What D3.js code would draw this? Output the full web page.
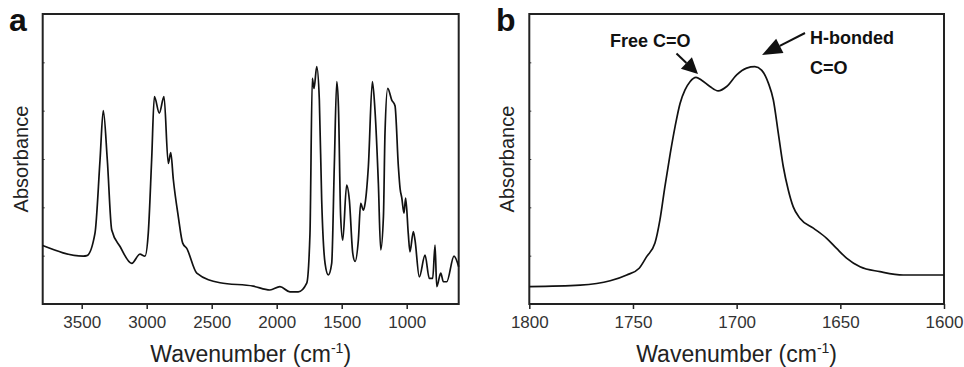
<!DOCTYPE html>
<html><head><meta charset="utf-8">
<script src="https://cdn.jsdelivr.net/npm/d3@7"></script>
<style>body{margin:0;background:#fff}svg{display:block}text{font-family:Arial,"Liberation Sans",sans-serif}</style>
</head><body>
<svg id="c" width="964" height="367"></svg>
<script>
// Panel a: full FTIR spectrum
const waveA = [3800,3488,3460,3398,3359,3334,3303,3269,3205,3115,3052,3013,2988,2962,2941,2903,2867,2834,2815,2795,2757,2723,2692,2615,2436,2180,2052,1975,1898,1834,1769,1744,1726,1713,1692,1672,1654,1628,1603,1577,1557,1538,1525,1508,1492,1462,1441,1415,1397,1372,1354,1333,1320,1295,1264,1244,1218,1200,1179,1167,1146,1115,1090,1064,1051,1038,1021,1008,988,975,949,936,903,859,826,800,782,769,738,718,692,636,600];
const absA  = [1.21,0.99,1.0,1.46,2.98,4.0,2.98,1.53,1.19,0.84,1.03,0.99,1.46,2.98,4.29,3.95,4.29,2.91,3.13,2.57,1.81,1.26,1.15,0.64,0.44,0.37,0.29,0.36,0.25,0.25,0.43,1.46,4.67,4.46,4.91,4.22,2.15,0.84,0.60,0.84,2.84,4.6,4.08,1.81,1.32,2.46,2.15,1.05,0.88,1.32,2.08,1.94,2.08,2.84,4.6,4.01,2.5,1.12,1.81,3.53,4.46,4.22,4.1,2.84,2.39,2.2,1.88,2.19,1.46,1.08,1.5,1.32,0.56,1.01,0.53,0.53,1.22,0.36,0.64,0.46,0.46,0.99,0.77];
// Panel b: carbonyl region
const waveB = [1800,1775.5,1761,1753,1747,1743.4,1739.4,1737,1734.6,1732,1729.7,1727.3,1724.9,1722.5,1719.6,1716.9,1712.9,1708.9,1704.8,1700,1695.2,1691.2,1688,1684.7,1682.3,1679.9,1677.5,1675.1,1672.7,1669.4,1663,1656.6,1651.8,1647,1640.5,1630.9,1619.7,1600];
const absB  = [0.36,0.39,0.48,0.60,0.74,0.98,1.26,1.74,2.43,3.12,3.67,4.15,4.43,4.6,4.69,4.63,4.5,4.41,4.5,4.74,4.88,4.91,4.84,4.57,4.22,3.53,2.84,2.36,2.01,1.77,1.57,1.36,1.15,0.95,0.77,0.67,0.60,0.60];
const ticksA = [3500,3000,2500,2000,1500,1000];
const ticksB = [1800,1750,1700,1650,1600];
const yTicks = [1,2,3,4,5];

const svg = d3.select("#c");
const plotTop = 14, plotBottom = 304;

function panel(opts){
  const x = d3.scaleLinear().domain(opts.xDomain).range([opts.left, opts.right]);
  const y = d3.scaleLinear().domain([0,6]).range([plotBottom, plotTop]);
  const g = svg.append("g");
  const xa = g.append("g").attr("transform",`translate(0,${plotBottom})`)
    .call(d3.axisBottom(x).tickValues(opts.ticks).tickSize(5).tickSizeOuter(0).tickPadding(7).tickFormat(d3.format("d")));
  xa.select(".domain").remove();
  xa.selectAll("line").attr("stroke","#222").attr("stroke-width",1.5);
  xa.selectAll("text").attr("font-size",17).attr("fill","#333").attr("font-family","Arial, 'Liberation Sans', sans-serif");
  const ya = g.append("g").attr("transform",`translate(${opts.left},0)`)
    .call(d3.axisRight(y).tickValues(yTicks).tickSize(2).tickFormat(""));
  ya.select(".domain").remove();
  ya.selectAll("line").attr("stroke","#333").attr("stroke-width",1);
  g.append("rect").attr("x",opts.left).attr("y",plotTop).attr("width",opts.right-opts.left).attr("height",plotBottom-plotTop)
    .attr("fill","none").attr("stroke","#222").attr("stroke-width",2);
  const data = opts.w.map((w,i)=>[w,opts.a[i]]);
  g.append("path").datum(data)
    .attr("d", d3.line().x(d=>x(d[0])).y(d=>y(d[1])).curve(d3.curveMonotoneX))
    .attr("fill","none").attr("stroke","#111").attr("stroke-width",1.7).attr("stroke-linejoin","round");
  g.append("text").attr("x",opts.letterX).attr("y",31).attr("font-size",32).attr("font-weight","bold").attr("fill","#111").text(opts.letter);
  g.append("text").attr("transform",`translate(${opts.left-15},159) rotate(-90)`).attr("text-anchor","middle")
    .attr("font-size",20).attr("fill","#222").text("Absorbance");
  const t = g.append("text").attr("x",(opts.left+opts.right)/2).attr("y",362).attr("text-anchor","middle")
    .attr("font-size",23).attr("fill","#222");
  t.append("tspan").text("Wavenumber (cm");
  t.append("tspan").attr("font-size",14).attr("dy",-9).text("-1");
  t.append("tspan").attr("dy",9).text(")");
  return {x,y,g};
}

panel({xDomain:[3800,600], left:42.7, right:458.7, ticks:ticksA, w:waveA, a:absA, letter:"a", letterX:9});
const pb = panel({xDomain:[1800,1600], left:529.3, right:944, ticks:ticksB, w:waveB, a:absB, letter:"b", letterX:496});

const ann = pb.g;
ann.append("text").attr("x",610).attr("y",47).attr("font-size",18).attr("font-weight","bold").attr("fill","#111").text("Free C=O");
ann.append("text").attr("x",810).attr("y",44).attr("font-size",18).attr("font-weight","bold").attr("fill","#111").text("H-bonded");
ann.append("text").attr("x",810).attr("y",74).attr("font-size",18).attr("font-weight","bold").attr("fill","#111").text("C=O");

function arrow(x1,y1,x2,y2,headLen,headW){
  const dx=x2-x1, dy=y2-y1, L=Math.hypot(dx,dy), ux=dx/L, uy=dy/L;
  const bx=x2-ux*headLen, by=y2-uy*headLen;
  ann.append("line").attr("x1",x1).attr("y1",y1).attr("x2",bx).attr("y2",by).attr("stroke","#111").attr("stroke-width",2);
  ann.append("path").attr("d",`M${x2},${y2}L${bx-uy*headW},${by+ux*headW}L${bx+uy*headW},${by-ux*headW}Z`).attr("fill","#111");
}
arrow(676.5,53.5,698,74,16,8);
arrow(805,33,762,55,20,8);
</script>
</body></html>
